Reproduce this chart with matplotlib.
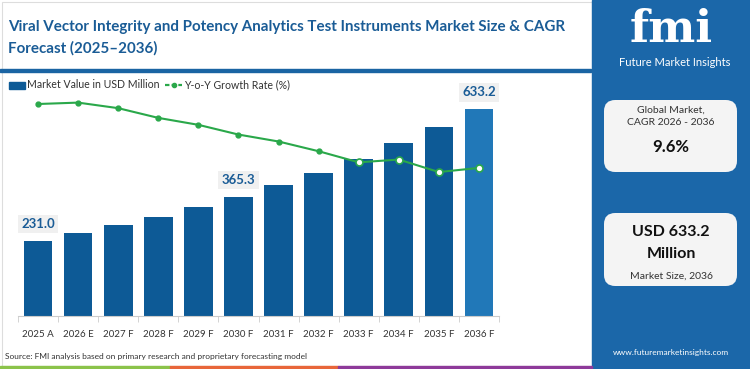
import matplotlib
matplotlib.use("Agg")
import matplotlib.pyplot as plt
from matplotlib.patches import Rectangle, FancyBboxPatch
from matplotlib.lines import Line2D

plt.rcParams['font.family'] = ['Lato', 'DejaVu Sans']

categories = ["2025 A", "2026 E", "2027 F", "2028 F", "2029 F", "2030 F",
              "2031 F", "2032 F", "2033 F", "2034 F", "2035 F", "2036 F"]
market_value = [231.0, 253.0, 277.5, 304.0, 333.5, 365.3, 401.0, 438.5,
                480.0, 528.0, 578.0, 633.2]
yoy_growth = [10.3, 10.35, 10.15, 9.8, 9.55, 9.2, 8.95, 8.6, 8.2, 8.3, 7.85, 8.0]
labelled = {0: "231.0", 5: "365.3", 11: "633.2"}

W, H = 750, 369
fig = plt.figure(figsize=(7.5, 3.69), dpi=100)
fig.patch.set_facecolor("white")

def fx(px):
    return px / W

def fy(py):
    return 1 - py / H

# border of the left area
fig.patches.append(Rectangle((fx(2), fy(366)), fx(590), 364 / H, transform=fig.transFigure,
                             fill=False, edgecolor="#dddddd", linewidth=0.8, zorder=0))

# title
fig.text(fx(8), fy(27), "Viral Vector Integrity and Potency Analytics Test Instruments Market Size & CAGR",
         fontsize=10.9, fontweight="bold", color="#1a5c96", va="center", ha="left")
fig.text(fx(8), fy(48), "Forecast (2025\u20132036)",
         fontsize=10.9, fontweight="bold", color="#1a5c96", va="center", ha="left")
fig.patches.append(Rectangle((0, fy(72)), fx(591), 3 / H, transform=fig.transFigure,
                             color="#1a64a3", zorder=1))

# legend
fig.patches.append(Rectangle((fx(9), fy(89)), fx(16), 7 / H, transform=fig.transFigure,
                             color="#0d5a96"))
fig.text(fx(27), fy(85), "Market Value in USD Million", fontsize=7.6, color="#333333",
         va="center", ha="left")
fig.lines.append(Line2D([fx(165), fx(182)], [fy(85), fy(85)], transform=fig.transFigure,
                        color="#2aa84a", linewidth=1.6, linestyle=(0, (2, 1))))
fig.lines.append(Line2D([fx(173.5)], [fy(85)], transform=fig.transFigure, marker="o",
                        markersize=3, color="#2aa84a"))
fig.text(fx(184), fy(85), "Y-o-Y Growth Rate (%)", fontsize=7.6, color="#333333",
         va="center", ha="left")

# main axes
ax_top_px, ax_bot_px = 90, 316
ax = fig.add_axes([fx(18), fy(ax_bot_px), fx(481), (ax_bot_px - ax_top_px) / H])
x = list(range(len(categories)))
colors = ["#0d5a96"] * (len(categories) - 1) + ["#2178b8"]
ax.bar(x, market_value, width=0.715, color=colors, zorder=2)
ax.set_xlim(-0.5, len(categories) - 0.5)
ax.set_ylim(0, (ax_bot_px - ax_top_px) * 3.06)
for s in ["top", "right", "left"]:
    ax.spines[s].set_visible(False)
ax.spines["bottom"].set_color("#cccccc")
ax.set_yticks([])
ax.set_xticks(x)
ax.set_xticklabels(categories, fontsize=7, color="#333333")
ax.tick_params(axis="x", length=0, pad=10)
ax.set_xticks([i + 0.5 for i in range(-1, len(categories))], minor=True)
ax.tick_params(axis="x", which="minor", length=4, color="#cccccc")
ax.patch.set_alpha(0)

for i, txt in labelled.items():
    ax.annotate(txt, (i, market_value[i]), xytext=(0, 12), textcoords="offset points",
                ha="center", va="center", fontsize=9.5, fontweight="bold", color="#1a5c96",
                bbox=dict(boxstyle="square,pad=0.25", fc="#f0f0f0", ec="none"), zorder=5)

ax2 = ax.twinx()
ax2.set_ylim(2.668, 10.804)
ax2.axis("off")
n_filled = 8
ax2.plot(x, yoy_growth, color="#2aa84a", linewidth=1.5, zorder=3)
ax2.plot(x[:n_filled], yoy_growth[:n_filled], linestyle="none", marker="o", markersize=3.5,
         color="#2aa84a", zorder=4)
ax2.plot(x[n_filled:], yoy_growth[n_filled:], linestyle="none", marker="o", markersize=5,
         markerfacecolor="white", markeredgecolor="#2aa84a", markeredgewidth=1.2, zorder=4)

# source
fig.text(fx(5), fy(356), "Source: FMI analysis based on primary research and proprietary forecasting model",
         fontsize=6, color="#333333", va="center", ha="left")

# bottom strip
for x0, x1, c in [(0, 170, "#8bc34a"), (170, 338, "#e8663a"), (338, 592, "#8e3a9a")]:
    fig.patches.append(Rectangle((fx(x0), 0), fx(x1 - x0), 3 / H, transform=fig.transFigure,
                                 color=c, zorder=2))

# right panel
fig.patches.append(Rectangle((fx(592), 0), fx(158), 1, transform=fig.transFigure,
                             color="#1b67a9", zorder=1))
fig.text(fx(671), fy(29), "fmi", fontsize=32, fontweight="bold", color="white",
         ha="center", va="center", family=["DejaVu Serif"])
fig.text(fx(675), fy(62), "Future Market Insights", fontsize=8, color="white",
         ha="center", va="center")

for y0, y1 in [(100, 172), (213, 286)]:
    fig.patches.append(FancyBboxPatch((fx(604), fy(y1)), fx(133), (y1 - y0) / H,
                                      boxstyle="round,pad=0,rounding_size=0.015",
                                      transform=fig.transFigure, fc="#f4f4f4", ec="none",
                                      zorder=2, mutation_aspect=2))

fig.text(fx(671), fy(110), "Global Market,", fontsize=7.5, color="#333333", ha="center", va="center", zorder=3)
fig.text(fx(671), fy(123), "CAGR 2026 - 2036", fontsize=7.5, color="#333333", ha="center", va="center", zorder=3)
fig.text(fx(671), fy(147), "9.6%", fontsize=12, fontweight="bold", color="#111111", ha="center", va="center", zorder=3)
fig.text(fx(671), fy(232), "USD 633.2", fontsize=11.5, fontweight="bold", color="#111111", ha="center", va="center", zorder=3)
fig.text(fx(671), fy(254), "Million", fontsize=11.5, fontweight="bold", color="#111111", ha="center", va="center", zorder=3)
fig.text(fx(671), fy(276), "Market Size, 2036", fontsize=7.5, color="#333333", ha="center", va="center", zorder=3)
fig.text(fx(671), fy(352), "www.futuremarketinsights.com", fontsize=6, color="white", ha="center", va="center", zorder=3)

fig.savefig("out.png", dpi=100, facecolor="white")
